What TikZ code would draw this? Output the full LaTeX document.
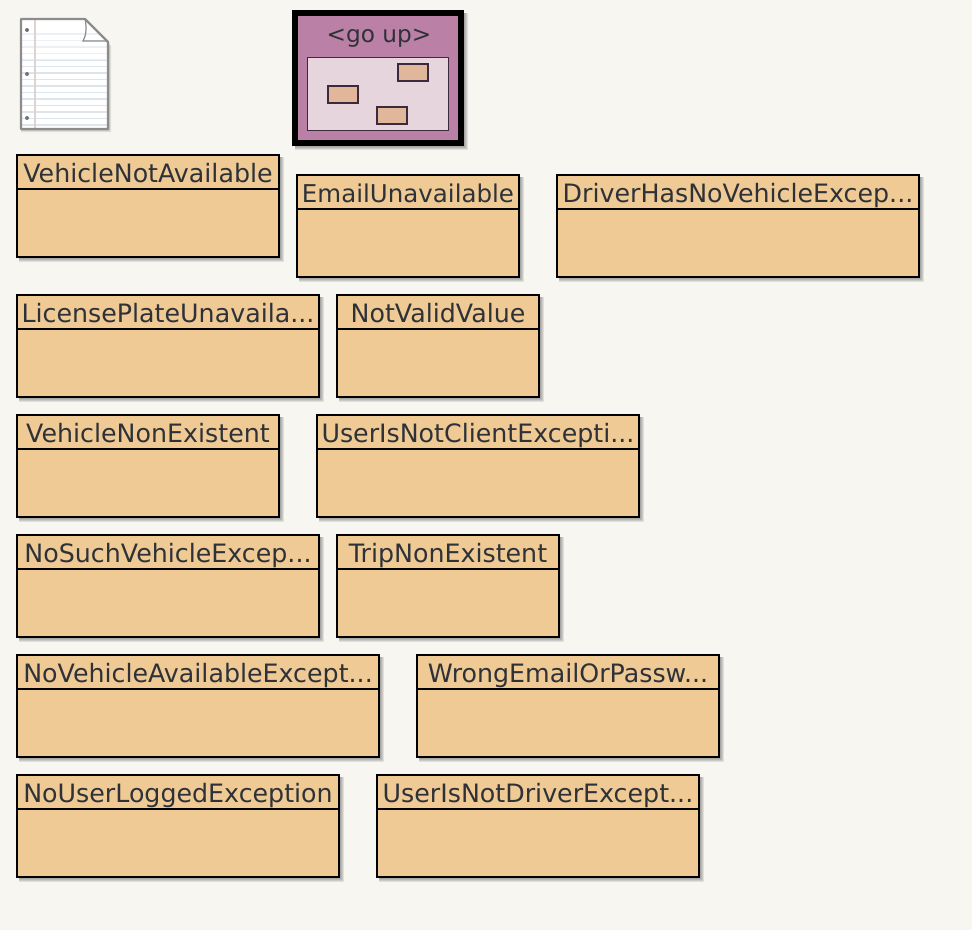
\documentclass[tikz,border=0pt]{standalone}
\usepackage{fontspec}
\setmainfont{DejaVu Sans}
\usetikzlibrary{calc}
\definecolor{bgc}{HTML}{F8F6F1}
\definecolor{boxc}{HTML}{EFCA94}
\definecolor{txtc}{HTML}{2E3238}
\definecolor{pkgc}{HTML}{BB80A5}
\definecolor{pkgin}{HTML}{E6D5DC}
\definecolor{pkgline}{HTML}{3C2A3C}
\definecolor{mini}{HTML}{E0B79B}
\definecolor{rulec}{HTML}{DCE4EC}
\definecolor{marginc}{HTML}{DDD3D3}
\tikzset{
  x=1pt,y=-1pt,
  every node/.style={outer sep=0pt},
  classbox/.style={draw=black,line width=2pt,fill=boxc,inner sep=0pt,anchor=north west},
  classlabel/.style={text=txtc,font=\fontsize{25.3}{28}\selectfont,inner sep=0pt,anchor=base},
  minibox/.style={draw=pkgline,line width=2pt,fill=mini,inner sep=0pt,anchor=north west,minimum width=30pt,minimum height=17pt},
  softshadow/.style={fill=black,draw=none,fill opacity=0.09}
}
\newcommand{\softshade}[4]{%
  \foreach \dd in {1.5,2.5,3.5,4.5}{
    \fill[softshadow] (#1+2,#2+2) rectangle (#3+\dd,#4+\dd);
  }
}
% name, left, top, right, bottom (stroke centres), label
\newcommand{\umlclass}[6]{%
  \softshade{#2}{#3}{#4}{#5}
  \node[classbox,minimum width=#4pt-#2pt,minimum height=#5pt-#3pt] (#1) at (#2,#3) {};
  \coordinate (#1L) at (#2,#3+34);
  \coordinate (#1R) at (#4,#3+34);
  \draw[line width=2pt] (#1L) -- (#1R);
  \node[classlabel] (#1T) at ({(#2+#4)/2},#3+27) {#6};
}
\begin{document}
\begin{tikzpicture}
\useasboundingbox (0,0) rectangle (972,930);
\fill[bgc] (0,0) rectangle (972,930);
% document icon
\foreach \dd in {1,2,3}{
  \fill[black,fill opacity=0.09] (21,20+\dd) -- (85+\dd,20+\dd) -- (108+\dd,43+\dd) -- (108+\dd,129+\dd) -- (21,129+\dd) -- cycle;
}
\begin{scope}
\clip (21,19) -- (85,19) -- (108,42) -- (108,129) -- (21,129) -- cycle;
\fill[white] (21,19) rectangle (108,129);
\foreach \yy in {34,40.5,...,126}{\draw[rulec,line width=1.6pt] (21,\yy) -- (108,\yy);}
\fill[white,fill opacity=0.45] (21,19) rectangle (108,60);
\fill[marginc] (33.5,19) rectangle (35.5,129);
\foreach \yy in {30,74,118}{\fill[black!55] (27,\yy) circle (2);}
\end{scope}
\draw[black!45,line width=2.4pt,line join=round] (21,19) -- (85,19) -- (108,42) -- (108,129) -- (21,129) -- cycle;
\draw[black!45,line width=1.2pt] (85,19) .. controls (87,28) and (86,36) .. (83,41) -- (106,41);
% package
\softshade{293}{11}{463}{145}
\node[draw=black,line width=6pt,fill=pkgc,inner sep=0pt,anchor=north west,minimum width=166pt,minimum height=130pt] (pkg) at (295,13) {};
\node[text=txtc,font=\fontsize{23.2}{28}\selectfont,inner sep=0pt,anchor=base] (goup) at (379,42) {<go up>};
\node[draw=pkgline,line width=1pt,fill=pkgin,inner sep=0pt,anchor=north west,minimum width=141pt,minimum height=73pt] (pkgi) at (307.5,57.5) {};
\node[minibox] (m1) at (398,64) {};
\node[minibox] (m2) at (328,85.5) {};
\node[minibox] (m3) at (377,107) {};
% classes
\umlclass{c1}{17}{155}{279}{257}{VehicleNotAvailable}
\umlclass{c2}{297}{175}{519}{277}{\fontsize{24.5}{28}\selectfont EmailUnavailable}
\umlclass{c3}{557}{175}{919}{277}{DriverHasNoVehicleExcep...}
\umlclass{c4}{17}{295}{319}{397}{LicensePlateUnavaila...}
\umlclass{c5}{337}{295}{539}{397}{NotValidValue}
\umlclass{c6}{17}{415}{279}{517}{VehicleNonExistent}
\umlclass{c7}{317}{415}{639}{517}{UserIsNotClientExcepti...}
\umlclass{c8}{17}{535}{319}{637}{NoSuchVehicleExcep...}
\umlclass{c9}{337}{535}{559}{637}{TripNonExistent}
\umlclass{c10}{17}{655}{379}{757}{NoVehicleAvailableExcept...}
\umlclass{c11}{417}{655}{719}{757}{WrongEmailOrPassw...}
\umlclass{c12}{17}{775}{339}{877}{NoUserLoggedException}
\umlclass{c13}{377}{775}{699}{877}{UserIsNotDriverExcept...}
\end{tikzpicture}
\end{document}
